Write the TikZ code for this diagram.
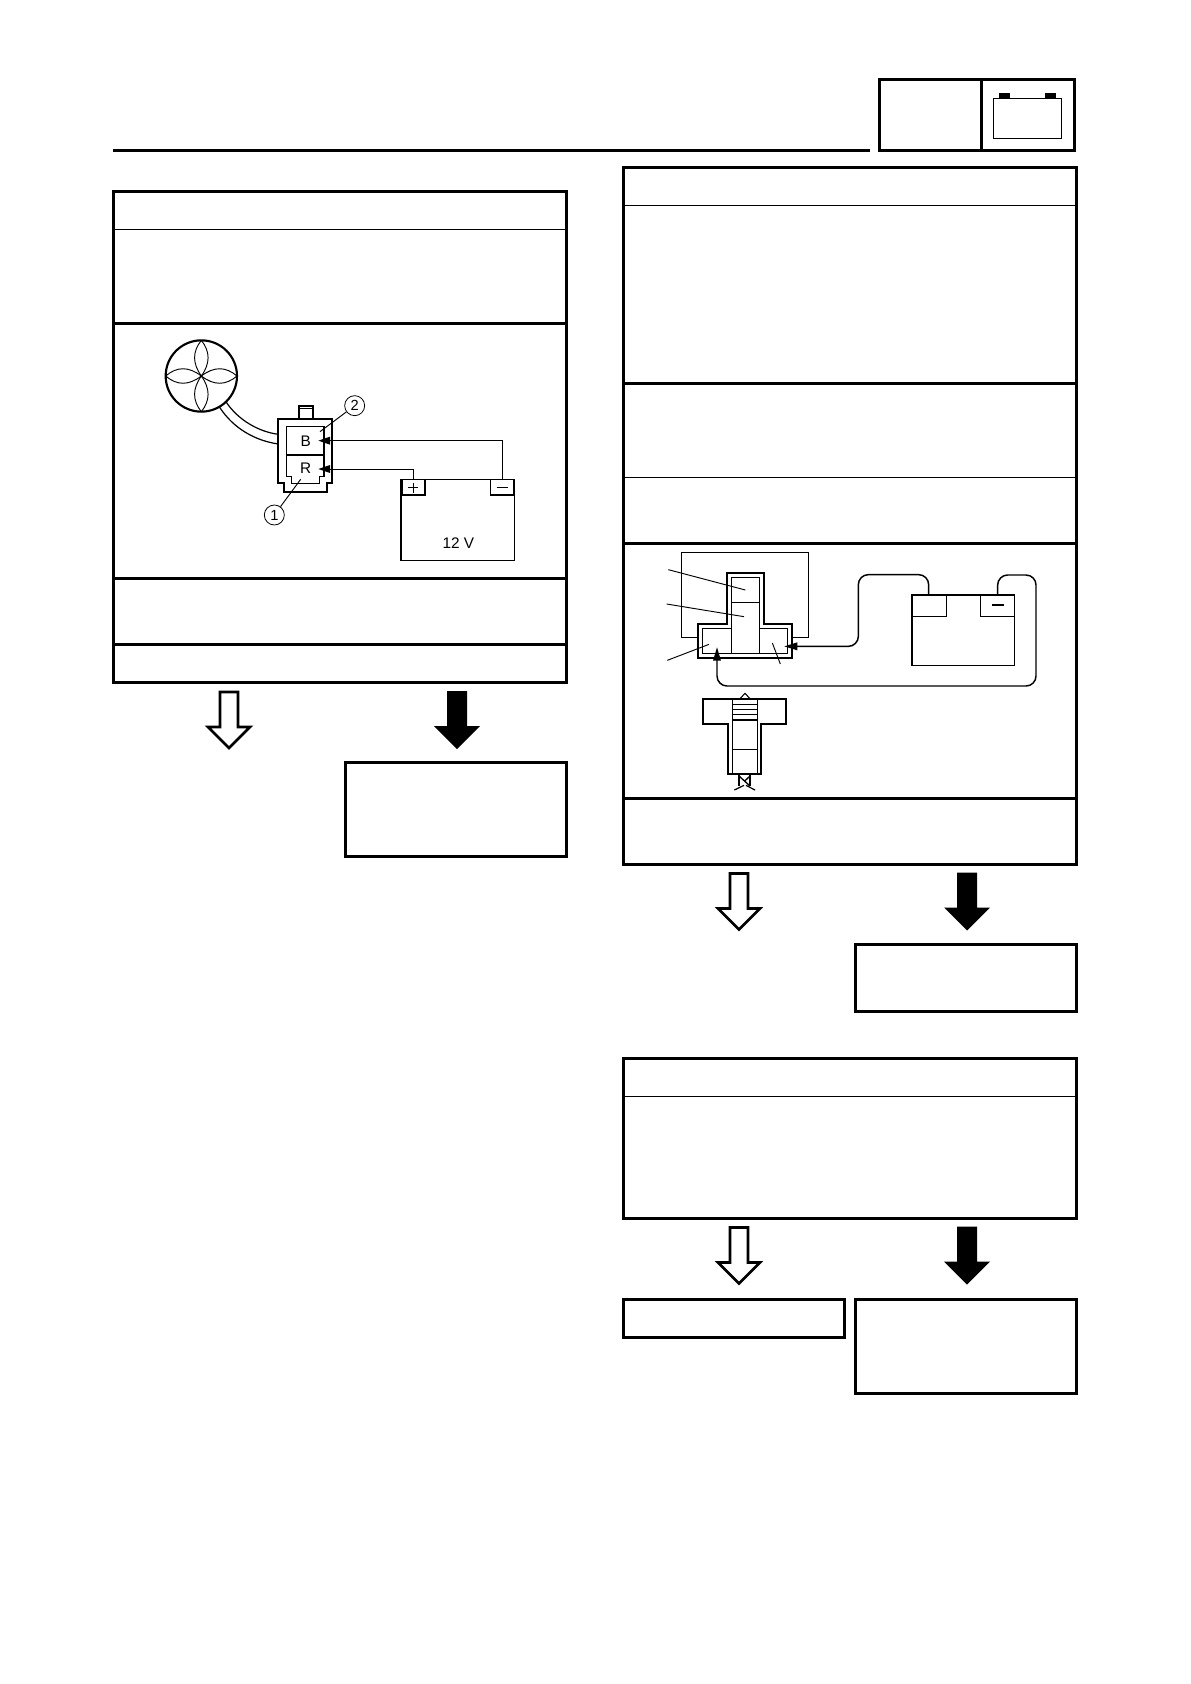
\documentclass[tikz,border=0pt]{standalone}
\usepackage{fontspec}
\setmainfont{Liberation Sans}
\usetikzlibrary{arrows.meta}
\tikzset{
  flowbox/.style={draw=black,line width=2.25pt,fill=none,inner sep=0pt,outer sep=0pt,anchor=north west},
  heavy/.style={line width=2.25pt,line cap=butt},
  medium/.style={line width=1.4pt},
  fine/.style={line width=.7pt},
  wire/.style={line width=.75pt},
  bwire/.style={line width=1.1pt,rounded corners=7.5pt},
  lbl/.style={inner sep=0pt,font=\fontsize{11.5}{12}\selectfont},
  num/.style={draw,circle,line width=.6pt,minimum size=15pt,inner sep=0pt,font=\fontsize{11}{11}\selectfont},
  hollowarrow/.pic={\draw[line width=2pt,fill=white,line join=miter] (-9,-57)--(9,-57)--(9,-22)--(21,-22)--(0,-1)--(-21,-22)--(-9,-22)--cycle;},
  solidarrow/.pic={\fill[black] (-10,-58)--(10,-58)--(10,-23)--(23,-23)--(0,0)--(-23,-23)--(-10,-23)--cycle;}
}
\begin{document}
\begin{tikzpicture}[x=.75pt,y=-.75pt]
\useasboundingbox[fill=white] (0,0) rectangle (1190,1684);
% header
\draw[heavy] (113,150.5)--(870,150.5);
\node[flowbox,minimum width=146.25pt,minimum height=52.5pt] (hdr) at (879,80) {};
\draw[heavy] (981,80)--(981,150);
\draw[line width=.8pt] (993.3,98.3) rectangle (1061.7,138.7);
\fill (999,93) rectangle (1010,98.3);
\fill (1045,93) rectangle (1056,98.3);
% left flow box
\node[flowbox,minimum width=339.75pt,minimum height=368.25pt] (leftbox) at (113,191) {};
\draw[fine] (113,229)--(566,229);
\draw[heavy] (113,323)--(566,323);
\draw[heavy] (113,578)--(566,578);
\draw[heavy] (113,644)--(566,644);
\node[flowbox,minimum width=165.75pt,minimum height=70.5pt] (leftno) at (345,762.5) {};
\pic at (229,749) {hollowarrow};
\pic at (457,749) {solidarrow};
% right top flow box
\node[flowbox,minimum width=339.75pt,minimum height=522.75pt] (rightbox) at (623,167.5) {};
\draw[fine] (623,205)--(1076,205);
\draw[heavy] (623,383.5)--(1076,383.5);
\draw[fine] (623,477)--(1076,477);
\draw[heavy] (623,543.5)--(1076,543.5);
\draw[heavy] (623,798.5)--(1076,798.5);
\pic at (739,930.5) {hollowarrow};
\pic at (967,930.5) {solidarrow};
\node[flowbox,minimum width=165.75pt,minimum height=50.25pt] (rightno) at (855,944) {};
% third box
\node[flowbox,minimum width=339.75pt,minimum height=120pt] (third) at (623,1058) {};
\draw[fine] (623,1096.5)--(1076,1096.5);
\pic at (739,1284.5) {hollowarrow};
\pic at (967,1284.5) {solidarrow};
\node[flowbox,minimum width=165.75pt,minimum height=28.5pt] (thirdyes) at (623,1299) {};
\node[flowbox,minimum width=165.75pt,minimum height=70.5pt] (thirdno) at (855,1299) {};
% left diagram
\begin{scope}[shift={(130,320)},x=.25pt,y=-.25pt]
  \draw[line width=1.6pt] (214,168) circle (107);
  \draw[fine] (214,168) .. controls (187,130) and (187,95) .. (214,61) .. controls (241,95) and (241,130) .. (214,168);
  \draw[fine] (214,168) .. controls (187,206) and (187,241) .. (214,275) .. controls (241,241) and (241,206) .. (214,168);
  \draw[fine] (214,168) .. controls (176,139) and (141,139) .. (107,168) .. controls (141,197) and (176,197) .. (214,168);
  \draw[fine] (214,168) .. controls (252,139) and (287,139) .. (321,168) .. controls (287,197) and (252,197) .. (214,168);
  \draw[line width=.9pt] (289,247) .. controls (325,300) and (385,335) .. (445,343);
  \draw[line width=.9pt] (269,262) .. controls (310,325) and (375,362) .. (445,372);
  \draw[medium] (508,297)--(508,258)--(548,258)--(548,297);
  \draw[fine] (508,266)--(548,266);
  \draw[line width=1.5pt] (445,297)--(607,297)--(607,490)--(590,490)--(590,515)--(462,515)--(462,490)--(445,490)--cycle;
  \draw[line width=.8pt] (470,320)--(582,320)--(582,470)--(568,470)--(568,490)--(484,490)--(484,470)--(470,470)--cycle;
  \draw[line width=.8pt] (470,405)--(582,405);
  \node[lbl] (pinB) at (527,363) {B};
  \node[lbl] (pinR) at (527,446) {R};
  \draw[line width=1pt] (813,478) rectangle (1153,722);
  \draw[line width=.8pt] (818,478) rectangle (885,525);
  \draw[line width=.8pt] (1082,478) rectangle (1150,525);
  \draw[line width=.9pt] (835,503)--(865,503);
  \draw[line width=.9pt] (850,488)--(850,518);
  \draw[line width=.9pt] (1100,503)--(1134,503);
  \node[lbl] (volt) at (985,670) {12 V};
  \coordinate (tp) at (850,478);
  \coordinate (tn) at (1117,478);
  \coordinate (ab) at (565,362);
  \coordinate (ar) at (565,447);
  \draw[wire] (tn)--(tn|-ab)--(590,362);
  \draw[wire] (tp)--(tp|-ar)--(590,447);
  \fill (ab)--(600,350)--(600,374)--cycle;
  \fill (ar)--(600,435)--(600,459)--cycle;
  \node[num] (n1) at (433,585) {1};
  \node[num] (n2) at (674,257) {2};
  \draw[fine] (n1)--(512,478);
  \draw[fine] (n2)--(570,335);
\end{scope}
% right diagram
\begin{scope}[shift={(640,540)},x=.25pt,y=-.25pt]
  \draw[line width=.9pt] (173,292)--(125,292)--(125,38)--(505,38)--(505,292)--(457,292);
  \draw[line width=1.5pt] (260,98)--(372,98)--(372,251)--(457,251)--(457,354)--(173,354)--(173,251)--(260,251)--cycle;
  \draw[line width=.8pt] (275,112)--(358,112)--(358,265)--(443,265)--(443,340)--(187,340)--(187,265)--(275,265)--cycle;
  \draw[line width=.8pt] (275,187)--(358,187) (275,265)--(275,340) (358,265)--(358,340);
  \draw[fine] (85,89)--(316,150);
  \draw[fine] (80,192)--(312,230);
  \draw[fine] (82,361)--(207,313);
  \draw[fine] (397,309)--(421,372);
  \draw[line width=1.1pt] (816,165) rectangle (1123,376);
  \draw[line width=.8pt] (816,165) rectangle (919,229);
  \draw[line width=.8pt] (1021,165) rectangle (1123,229);
  \draw[line width=1.3pt] (1056,194)--(1092,194);
  \coordinate (bp) at (866,165);
  \coordinate (bn) at (1073,165);
  \coordinate (e1) at (433,319);
  \coordinate (e2) at (231,322);
  \draw[bwire] (bp)--(866,104)--(655,104)--(655,319)--(470,319);
  \draw[bwire] (bn)--(1073,105)--(1188,105)--(1188,438)--(231,438)--(231,358);
  \fill (e1)--(472,307)--(472,331)--cycle;
  \fill (e2)--(219,362)--(243,362)--cycle;
  % lower cut-away
  \draw[line width=1.3pt,line join=miter] (188,476)--(439,476)--(439,553)--(364,553)--(364,702)--(264,702)--(264,553)--(188,553)--cycle;
  \draw[line width=.8pt] (278,476)--(278,702) (352,476)--(352,702);
  \draw[line width=.8pt] (278,494)--(352,494) (278,509)--(352,509) (278,524)--(352,524) (278,540)--(352,540) (278,628)--(352,628);
  \draw[line width=.8pt] (300,476)--(315,460)--(330,476);
  \draw[line width=1.3pt] (297,702)--(297,738) (330,702)--(330,738);
  \draw[line width=1pt] (297,708)--(330,738) (330,708)--(313,724);
  \draw[line width=.9pt] (283,750)--(312,736) (345,750)--(318,736);
\end{scope}
\end{tikzpicture}
\end{document}
